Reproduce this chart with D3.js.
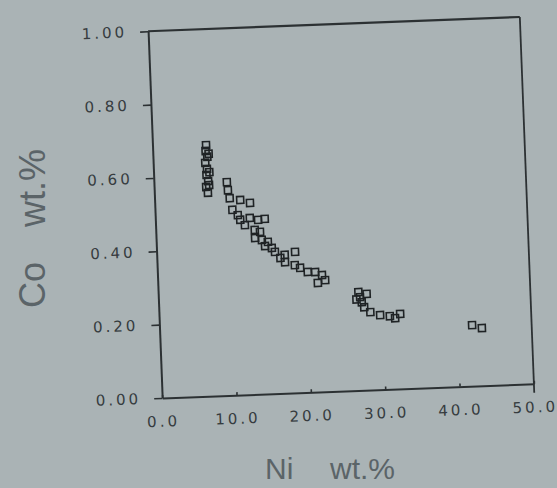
<!DOCTYPE html>
<html><head><meta charset="utf-8">
<script src="https://cdn.jsdelivr.net/npm/d3@7"></script>
<style>html,body{margin:0;padding:0;background:#aab3b5;} svg{display:block;}</style>
</head><body><svg id="c" width="557" height="488"></svg>
<script>
// Ni wt.% (x) and Co wt.% (y) of each analysed point
const niValues = [7.2,7.1,7.3,7.0,7.2,7.1,7.3,7.0,7.2,7.5,7.5,7.4,
  9.8,9.9,10.1,11.5,12.8,10.4,11.1,11.4,12.7,13.8,14.7,12.0,13.3,14.0,13.3,14.2,15.0,14.6,15.5,15.9,17.2,18.6,16.6,17.2,18.5,19.2,20.2,21.2,22.1,22.5,21.5,
  26.9,27.1,27.3,27.6,28.0,26.6,28.4,29.7,31.0,32.4,31.7,
  42.0,43.3];
const coValues = [0.684,0.668,0.652,0.636,0.619,0.603,0.586,0.570,0.554,0.660,0.610,0.575,
  0.581,0.559,0.537,0.531,0.522,0.505,0.490,0.477,0.481,0.475,0.477,0.462,0.448,0.442,0.426,0.420,0.414,0.403,0.397,0.386,0.377,0.384,0.369,0.357,0.348,0.340,0.328,0.327,0.318,0.304,0.297,
  0.268,0.254,0.240,0.226,0.262,0.248,0.212,0.203,0.199,0.204,0.193,
  0.166,0.157];
const xTicks = [0,10,20,30,40,50];
const xTickLabels = ["0.0","10.0","20.0","30.0","40.0","50.0"];
const yTicks = [0,0.2,0.4,0.6,0.8,1.0];
const yTickLabels = ["0.00","0.20","0.40","0.60","0.80","1.00"];
const xTitle = ["Ni","wt.%"];
const yTitle = ["Co","wt.%"];

const W = 557, H = 488;
const m = {left:155, right:527, top:24, bottom:391};
const svg = d3.select("#c");
svg.append("rect").attr("width",W).attr("height",H).attr("fill","#aab3b5");

const x = d3.scaleLinear().domain([0,50]).range([m.left,m.right]);
const y = d3.scaleLinear().domain([0,1]).range([m.bottom,m.top]);

const g = svg.append("g").attr("transform","rotate(-2.2,341,207.5)");
const ink = "#2c3133";

// frame: top and right
g.append("line").attr("x1",x(0)).attr("x2",x(50)).attr("y1",y(1)).attr("y2",y(1))
  .attr("stroke",ink).attr("stroke-width",2.2);
g.append("line").attr("x1",x(50)).attr("x2",x(50)).attr("y1",y(1)).attr("y2",y(0)+9)
  .attr("stroke",ink).attr("stroke-width",1.8);

const xAxis = g.append("g").attr("transform",`translate(0,${m.bottom})`)
  .call(d3.axisBottom(x).tickValues(xTicks).tickFormat((d,i)=>xTickLabels[i])
    .tickSizeInner(-3).tickSizeOuter(0).tickPadding(18));
const yAxis = g.append("g").attr("transform",`translate(${m.left},0)`)
  .call(d3.axisLeft(y).tickValues(yTicks).tickFormat((d,i)=>yTickLabels[i])
    .tickSizeInner(8).tickSizeOuter(0).tickPadding(13));

[xAxis,yAxis].forEach(a=>{
  a.select(".domain").attr("stroke",ink).attr("stroke-width",2);
  a.selectAll(".tick line").attr("stroke",ink).attr("stroke-width",1.6);
  a.selectAll(".tick text").attr("fill","#363c3f")
    .attr("font-family","DejaVu Sans, sans-serif").attr("font-size",15)
    .style("letter-spacing","3px");
});

// points: open squares
g.selectAll("rect.pt").data(d3.range(niValues.length)).join("rect")
  .attr("class","pt")
  .attr("x",i=>x(niValues[i])-3.5).attr("y",i=>y(coValues[i])-3.5)
  .attr("width",7).attr("height",7)
  .attr("fill","none").attr("stroke","#1f2325").attr("stroke-width",1.6);

// axis titles
const tcol = "#5b6468";
svg.append("text").attr("x",265).attr("y",479).attr("fill",tcol)
  .attr("font-family","Liberation Sans, Arial, sans-serif").attr("font-size",30).text(xTitle[0]);
svg.append("text").attr("x",330).attr("y",479).attr("fill",tcol)
  .attr("font-family","Liberation Sans, Arial, sans-serif").attr("font-size",30).text(xTitle[1]);
svg.append("text").attr("transform","translate(45,308) rotate(-90)").attr("fill",tcol)
  .attr("font-family","Liberation Sans, Arial, sans-serif").attr("font-size",36).text(yTitle[0]);
svg.append("text").attr("transform","translate(45,227) rotate(-90)").attr("fill",tcol)
  .attr("font-family","Liberation Sans, Arial, sans-serif").attr("font-size",36).text(yTitle[1]);
</script></body></html>
